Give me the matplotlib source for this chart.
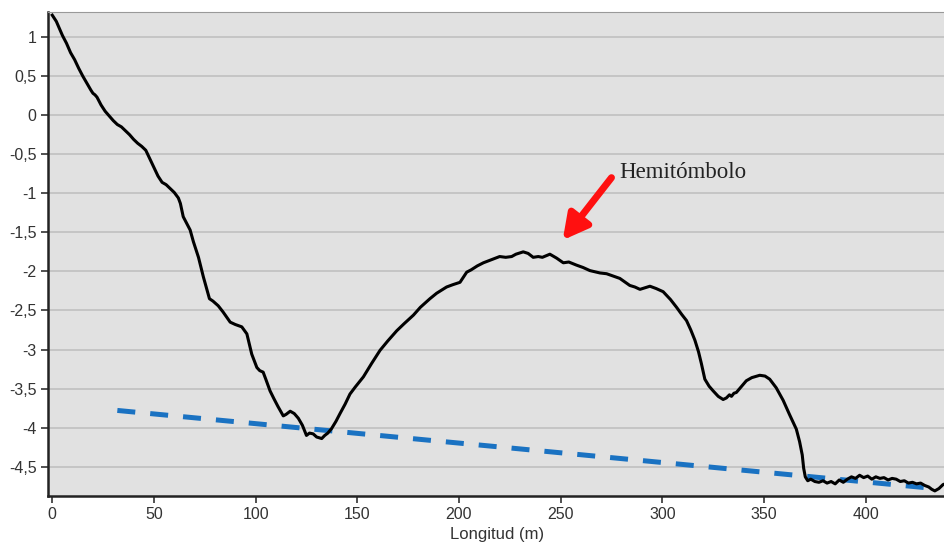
import matplotlib
matplotlib.use('Agg')
import matplotlib.pyplot as plt

# perfil topografico (longitud en m, cota en m), 10 valores por linea
dist = [0, 1, 2, 3, 4, 5, 6, 7, 9, 11,
        13, 15, 17, 19, 20, 21, 22, 24, 26, 28,
        30, 32, 34, 36, 38, 40, 42, 44, 46, 48,
        50, 52, 54, 56, 58, 60, 62, 63, 64.4, 66,
        67.8, 69.4, 71.9, 74.3, 77.3, 79, 81.6, 84, 87.5, 90,
        93.2, 95.7, 98.1, 100.6, 102, 103.7, 105, 107.1, 109, 111,
        113.6, 115, 117, 119, 121, 123, 125, 126.5, 128.3, 130,
        132.5, 134, 135.5, 137.4, 139.5, 141.5, 144, 146.4, 149, 153,
        157, 161.2, 165, 169.4, 173, 177.6, 181, 185.7, 189, 193.9,
        197, 200.5, 202, 203.8, 206, 209, 212, 216, 220, 223,
        225.9, 228, 231.6, 234, 236.5, 239, 241, 244.7, 248, 251.3,
        254, 257.8, 261, 264.4, 269.3, 272.6, 275.8, 279.1, 284, 286.5,
        289, 291.5, 293.9, 297, 300.4, 304, 307, 309.5, 311.9, 314,
        316, 317.8, 319.2, 320.9, 323, 325, 327.5, 329.9, 331.5, 333,
        334, 335.2, 336.4, 339, 341.3, 344, 347.9, 350.5, 352.8, 356,
        359.4, 362.5, 365.9, 367.5, 368.8, 369.5, 370.3, 371.5, 373, 375,
        377, 379, 381, 383, 385, 387, 389, 391, 393, 395,
        397, 399, 401, 403, 405, 407, 409, 411, 413, 415,
        417, 419, 421, 423, 425, 427, 429, 431, 432.5, 434,
        436, 438, 440]
cota = [1.28, 1.24, 1.20, 1.14, 1.08, 1.02, 0.97, 0.92, 0.80, 0.71,
        0.60, 0.50, 0.41, 0.32, 0.28, 0.26, 0.23, 0.13, 0.05, -0.01,
        -0.07, -0.12, -0.15, -0.20, -0.25, -0.31, -0.36, -0.40, -0.45, -0.56,
        -0.67, -0.78, -0.86, -0.89, -0.94, -0.99, -1.06, -1.13, -1.30, -1.38,
        -1.47, -1.62, -1.82, -2.07, -2.35, -2.38, -2.44, -2.52, -2.65, -2.68,
        -2.71, -2.80, -3.06, -3.23, -3.27, -3.29, -3.38, -3.53, -3.63, -3.73,
        -3.85, -3.83, -3.79, -3.82, -3.88, -3.97, -4.10, -4.07, -4.08, -4.12,
        -4.14, -4.10, -4.07, -4.01, -3.92, -3.82, -3.70, -3.57, -3.48, -3.35,
        -3.18, -3.01, -2.89, -2.76, -2.67, -2.56, -2.46, -2.35, -2.28, -2.20,
        -2.17, -2.14, -2.08, -2.01, -1.98, -1.93, -1.89, -1.85, -1.81, -1.82,
        -1.81, -1.78, -1.75, -1.77, -1.82, -1.81, -1.82, -1.78, -1.83, -1.89,
        -1.88, -1.92, -1.95, -1.99, -2.02, -2.03, -2.06, -2.09, -2.18, -2.20,
        -2.23, -2.21, -2.19, -2.22, -2.26, -2.36, -2.46, -2.55, -2.63, -2.75,
        -2.88, -3.03, -3.18, -3.38, -3.47, -3.53, -3.60, -3.64, -3.62, -3.58,
        -3.60, -3.56, -3.55, -3.47, -3.40, -3.36, -3.33, -3.34, -3.38, -3.49,
        -3.65, -3.83, -4.02, -4.18, -4.35, -4.52, -4.63, -4.68, -4.66, -4.69,
        -4.70, -4.68, -4.71, -4.69, -4.72, -4.67, -4.70, -4.66, -4.63, -4.65,
        -4.61, -4.64, -4.62, -4.66, -4.63, -4.65, -4.64, -4.67, -4.65, -4.66,
        -4.69, -4.68, -4.71, -4.70, -4.72, -4.71, -4.74, -4.76, -4.79, -4.81,
        -4.78, -4.73, -4.71]

# linea de tendencia (discontinua azul)
tend_x = [32, 434]
tend_y = [-3.78, -4.78]

xticks = [0, 50, 100, 150, 200, 250, 300, 350, 400]
yticks = [1, 0.5, 0, -0.5, -1, -1.5, -2, -2.5, -3, -3.5, -4, -4.5]
ylabels = ['1', '0,5', '0', '-0,5', '-1', '-1,5', '-2', '-2,5', '-3', '-3,5',
           '-4', '-4,5']

plt.rcParams['font.family'] = ['Liberation Sans', 'DejaVu Sans']

f = plt.figure(figsize=(9.45, 5.47), dpi=100)
ax = f.add_axes([0.051, 0.094, 0.949, 0.884])
ax.set_facecolor('#e1e1e1')

ax.plot(tend_x, tend_y, color='#1a72c2', lw=3.6, dashes=(3.6, 3.0), zorder=3)
ax.plot(dist, cota, color='black', lw=2.2, zorder=4)

ax.set_xlim(-2, 439)
ax.set_ylim(-4.87, 1.32)
ax.set_xticks(xticks)
ax.set_yticks(yticks)
ax.set_yticklabels(ylabels)
ax.tick_params(labelsize=11.5, colors='#333333', length=5, width=1.2)
ax.grid(axis='y', color='#c0c0c0', lw=1.2)
ax.set_axisbelow(True)
for s in ['left', 'bottom']:
	ax.spines[s].set_linewidth(1.8)
	ax.spines[s].set_color('#222222')
ax.spines['top'].set_color('#999999')
ax.spines['right'].set_visible(False)
ax.set_xlabel('Longitud (m)', fontsize=12, color='#333333', labelpad=3)

ax.annotate('', xy=(251, -1.60), xytext=(275, -0.80),
            arrowprops=dict(arrowstyle='-|>,head_length=0.75,head_width=0.4',
                            mutation_scale=20, color='#ff1010', lw=5,
                            shrinkA=0, shrinkB=0))
ax.text(279, -0.74, 'Hemitómbolo', fontsize=16.5, va='center', ha='left',
        family=['Liberation Serif', 'DejaVu Serif'], color='#222222')

f.savefig('out.png', dpi=100)
